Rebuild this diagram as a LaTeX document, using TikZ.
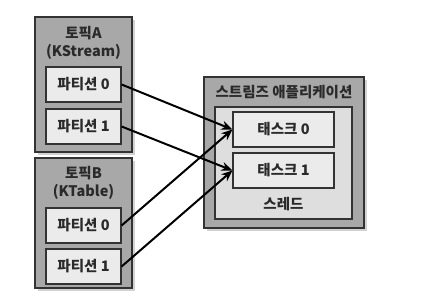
\documentclass[tikz,border=0pt]{standalone}
\usepackage{fontspec}
\setmainfont{Noto Sans CJK KR}
\usetikzlibrary{shadows,arrows.meta}
\definecolor{outerfill}{HTML}{A8A8A8}
\definecolor{innerfill}{HTML}{EBEBEB}
\definecolor{threadfill}{HTML}{DEDEDE}
\definecolor{edgecol}{HTML}{333333}
\definecolor{txt}{HTML}{2A2A2A}
\tikzset{
  outerbox/.style={draw=edgecol, line width=1.4pt, fill=outerfill, inner sep=0pt,
    drop shadow={opacity=0.35, shadow xshift=2.5pt, shadow yshift=-2.5pt}},
  threadbox/.style={draw=edgecol, line width=1.2pt, fill=threadfill, inner sep=0pt},
  partbox/.style={draw=edgecol, line width=1.2pt, fill=innerfill, inner sep=0pt,
    font=\fontsize{14.5}{16}\selectfont\bfseries, text=txt},
  lbl/.style={font=\fontsize{14.5}{16}\selectfont\bfseries, text=txt, inner sep=0pt},
  flow/.style={line width=2pt, black, -{Stealth[length=11pt,width=9pt]}}
}
\begin{document}
\begin{tikzpicture}[x=1pt,y=-1pt]
\useasboundingbox (0,0) rectangle (424,308);
\fill[white] (0,0) rectangle (424,308);
% topic A
\node[outerbox, minimum width=97pt, minimum height=135pt] (ta) at (83.5,84.5) {};
\node[lbl] (taname) at (83.5,33) {토픽A};
\node[lbl] (tatype) at (83.5,52) {(KStream)};
\node[partbox, minimum width=75pt, minimum height=35pt] (pa0) at (83.5,84.5) {파티션 0};
\node[partbox, minimum width=75pt, minimum height=35pt] (pa1) at (83.5,126.5) {파티션 1};
% topic B
\node[outerbox, minimum width=97pt, minimum height=130pt] (tb) at (83.5,223) {};
\node[lbl] (tbname) at (83.5,173) {토픽B};
\node[lbl] (tbtype) at (83.5,192) {(KTable)};
\node[partbox, minimum width=75pt, minimum height=35pt] (pb0) at (83.5,225.5) {파티션 0};
\node[partbox, minimum width=75pt, minimum height=35pt] (pb1) at (83.5,266.5) {파티션 1};
% streams app
\node[outerbox, minimum width=160pt, minimum height=151pt] (app) at (284,152.5) {};
\node[lbl] (appname) at (284,92) {스트림즈 애플리케이션};
\node[threadbox, minimum width=137pt, minimum height=112pt] (thr) at (283.5,163) {};
\node[partbox, minimum width=101pt, minimum height=35pt] (t0) at (283.5,129.5) {태스크 0};
\node[partbox, minimum width=101pt, minimum height=35pt] (t1) at (283.5,170.5) {태스크 1};
\node[lbl] (thrname) at (283.5,204) {스레드};
% connectors
\draw[flow] (pa0.east) -- (t0.west);
\draw[flow] (pa1.east) -- (t1.west);
\draw[flow] (pb0.east) -- (t0.west);
\draw[flow] (pb1.east) -- (t1.west);
\end{tikzpicture}
\end{document}
